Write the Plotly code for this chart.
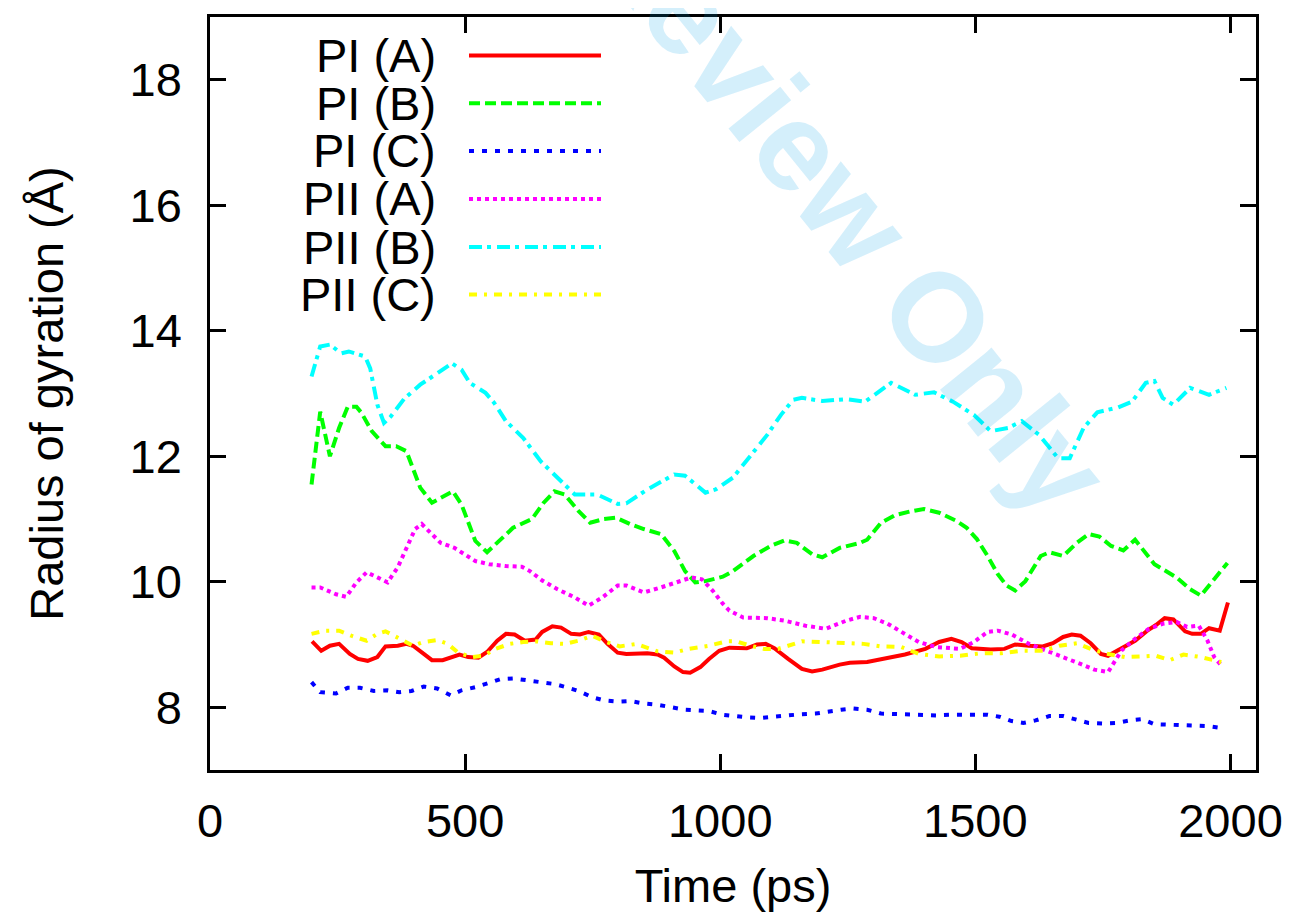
import plotly.graph_objects as go

# ---------------- data ----------------
t_pi_a = [200,218,235,253,274,290,309,328,344,368,385,398,419,435,456,472,489,506,526,543,
          563,580,597,617,638,651,671,688,708,725,742,762,779,799,816,857,877,890,910,927,
          941,961,978,998,1018,1052,1072,1089,1106,1133,1160,1180,1200,1234,1254,1288,1328,1362,1402,1429,
          1453,1473,1493,1530,1557,1578,1605,1632,1652,1672,1689,1706,1726,1746,1760,1787,1813,1837,1854,1871,
          1888,1911,1925,1942,1958,1979,1995]
rg_pi_a = [9.05,8.90,8.98,9.01,8.85,8.77,8.74,8.80,8.97,8.98,9.01,8.98,8.85,8.75,8.75,8.79,8.84,8.80,8.79,8.88,
           9.06,9.17,9.16,9.06,9.08,9.20,9.29,9.27,9.17,9.16,9.20,9.16,9.01,8.87,8.85,8.86,8.84,8.79,8.65,8.56,
           8.55,8.64,8.77,8.90,8.95,8.94,9.00,9.01,8.94,8.77,8.61,8.57,8.60,8.68,8.71,8.72,8.79,8.84,8.93,9.04,
           9.09,9.04,8.94,8.92,8.93,9.00,8.98,8.97,9.02,9.12,9.16,9.14,9.02,8.85,8.82,8.95,9.06,9.22,9.31,9.42,
           9.40,9.21,9.17,9.17,9.26,9.22,9.67]

t_pi_b = [199,216,235,253,270,287,297,317,344,365,385,412,435,476,493,520,543,567,594,631,
          654,675,695,722,745,772,796,823,850,884,910,931,951,971,1005,1025,1065,1099,1126,1150,
          1180,1200,1234,1274,1288,1315,1342,1372,1399,1429,1463,1483,1503,1524,1544,1561,1578,1598,1628,1645,
          1672,1699,1722,1743,1766,1790,1813,1851,1874,1894,1921,1942,1968,1994]
rg_pi_b = [11.55,12.71,12.00,12.45,12.79,12.79,12.69,12.40,12.16,12.16,12.08,11.50,11.26,11.44,11.23,10.65,10.47,10.65,10.86,11.00,
           11.26,11.44,11.39,11.13,10.94,11.00,11.02,10.92,10.84,10.76,10.49,10.17,9.99,10.01,10.08,10.17,10.41,10.57,10.66,10.62,
           10.44,10.39,10.54,10.62,10.67,10.94,11.06,11.12,11.16,11.10,10.97,10.86,10.68,10.41,10.12,9.94,9.86,10.01,10.41,10.47,
           10.41,10.62,10.76,10.72,10.57,10.50,10.67,10.28,10.17,10.07,9.88,9.78,10.04,10.30]

t_pi_c = [199,216,247,270,294,321,348,371,395,419,445,472,493,520,547,570,594,621,648,675,
          698,722,749,772,799,823,850,877,904,931,954,978,1005,1025,1052,1079,1106,1133,1160,1187,
          1214,1237,1261,1288,1315,1342,1369,1396,1423,1450,1470,1497,1524,1547,1571,1594,1618,1645,1672,1699,
          1722,1749,1776,1803,1827,1851,1874,1901,1928,1955,1982]
rg_pi_c = [8.40,8.24,8.22,8.31,8.31,8.26,8.27,8.24,8.26,8.33,8.30,8.19,8.27,8.32,8.39,8.45,8.46,8.43,8.41,8.37,
           8.32,8.26,8.16,8.11,8.09,8.10,8.06,8.04,8.00,7.96,7.95,7.94,7.88,7.86,7.84,7.83,7.85,7.88,7.89,7.90,
           7.94,7.96,7.98,7.96,7.90,7.89,7.88,7.88,7.87,7.88,7.88,7.89,7.88,7.85,7.78,7.75,7.79,7.86,7.86,7.80,
           7.75,7.74,7.75,7.79,7.81,7.73,7.72,7.72,7.71,7.70,7.67]

t_pii_a = [199,216,247,267,287,307,328,348,368,385,402,415,432,452,479,499,520,547,580,611,
           627,651,681,715,742,769,799,816,850,884,917,944,964,985,1005,1018,1045,1092,1126,1167,
           1207,1247,1274,1301,1328,1355,1389,1423,1470,1497,1524,1544,1571,1605,1638,1672,1706,1733,1760,1787,
           1813,1840,1867,1894,1915,1938,1955,1968,1985]
rg_pii_a = [9.91,9.91,9.80,9.76,9.99,10.15,10.07,9.99,10.23,10.54,10.84,10.92,10.78,10.62,10.54,10.44,10.33,10.28,10.25,10.24,
            10.17,10.02,9.88,9.75,9.62,9.75,9.94,9.94,9.83,9.91,9.99,10.07,10.04,9.86,9.65,9.54,9.43,9.42,9.38,9.30,
            9.25,9.38,9.44,9.42,9.33,9.20,9.04,8.96,8.93,9.04,9.20,9.22,9.16,9.01,8.91,8.80,8.69,8.60,8.56,8.91,
            9.09,9.25,9.33,9.36,9.28,9.30,9.06,8.80,8.64]

t_pii_b = [199,216,235,257,272,287,304,314,328,341,354,381,412,445,474,493,509,540,557,580,
           614,648,681,715,759,799,816,857,910,931,971,991,1025,1059,1092,1119,1143,1160,1200,1247,
           1284,1335,1382,1419,1456,1497,1530,1564,1591,1625,1662,1685,1712,1739,1780,1807,1834,1851,1867,1888,
           1921,1958,1992]
rg_pii_b = [13.27,13.75,13.78,13.64,13.67,13.64,13.59,13.40,12.82,12.53,12.63,12.92,13.14,13.32,13.48,13.38,13.17,13.01,12.85,12.56,
            12.29,11.92,11.66,11.39,11.39,11.24,11.25,11.47,11.71,11.69,11.42,11.47,11.66,12.00,12.34,12.66,12.90,12.93,12.88,12.91,
            12.87,13.17,12.98,13.02,12.87,12.66,12.40,12.45,12.56,12.34,11.97,11.97,12.45,12.70,12.78,12.87,13.17,13.20,12.93,12.82,
            13.09,12.98,13.09]

t_pii_c = [199,226,253,277,307,328,344,371,398,419,445,466,486,513,536,560,587,614,641,668,
           695,722,749,776,803,836,877,910,937,978,1012,1032,1059,1086,1113,1133,1160,1200,1241,1281,
           1315,1355,1389,1429,1470,1510,1551,1591,1632,1665,1699,1726,1753,1793,1827,1854,1881,1908,1942,1982]
rg_pii_c = [9.17,9.22,9.22,9.14,9.06,9.17,9.21,9.09,8.98,9.04,9.07,9.01,8.87,8.80,8.82,8.93,9.01,9.04,9.05,9.02,
            9.01,9.06,9.14,9.04,8.97,9.01,8.89,8.87,8.93,8.98,9.05,9.05,8.98,8.93,8.93,8.98,9.05,9.04,9.03,9.01,
            8.97,8.96,8.85,8.81,8.82,8.86,8.86,8.90,8.90,8.98,9.02,8.93,8.86,8.80,8.81,8.82,8.75,8.84,8.80,8.72]

series_names = ["PI (A)", "PI (B)", "PI (C)", "PII (A)", "PII (B)", "PII (C)"]
x_ticks = [0, 500, 1000, 1500, 2000]
y_ticks = [8, 10, 12, 14, 16, 18]

# ---------------- styles ----------------
times = [t_pi_a, t_pi_b, t_pi_c, t_pii_a, t_pii_b, t_pii_c]
values = [rg_pi_a, rg_pi_b, rg_pi_c, rg_pii_a, rg_pii_b, rg_pii_c]
colors = ["#ff0000", "#00ff00", "#0000ff", "#ff00ff", "#00ffff", "#ffff00"]
dashes = ["solid", "11px,5px", "5px,8px", "4px,4px", "13px,5px,4px,6px", "8px,7px,3px,7px"]
LW = 4
FONT = "Liberation Sans, Arial, Helvetica, sans-serif"
FS = 47

fig = go.Figure()
for t, v, c, d, n in zip(times, values, colors, dashes, series_names):
    fig.add_trace(go.Scatter(x=t, y=v, mode="lines", name=n, showlegend=False,
                             line=dict(color=c, width=LW, dash=d)))

# page body has an 8px margin: the figure is placed at (8, 8) in the window
OFF = 8
W, H = 1299 - OFF, 922 - OFF
L, T = 210 - OFF, 14 - OFF
R = W - (1256 - OFF)
B = H - (770 - OFF)
pw, ph = W - L - R, H - T - B


def px_to_paper_x(px):
    return (px - OFF - L) / pw


def px_to_paper_y(py):
    return (H - B - (py - OFF)) / ph


# manual gnuplot-style key: label right-aligned, sample to the right
row_px = [52.7, 100.7, 148.5, 196.7, 245, 292.7]
text_right_px = 438
samp_x0_px, samp_x1_px = 469, 601
shapes, annos = [], []
for n, c, d, ry in zip(series_names, colors, dashes, row_px):
    yp = px_to_paper_y(ry)
    shapes.append(dict(type="line", xref="paper", yref="paper",
                       x0=px_to_paper_x(samp_x0_px), x1=px_to_paper_x(samp_x1_px), y0=yp, y1=yp,
                       line=dict(color=c, width=LW, dash=d)))
    annos.append(dict(text=n, xref="paper", yref="paper", x=px_to_paper_x(text_right_px), y=yp,
                      xanchor="right", yanchor="middle", showarrow=False,
                      font=dict(family=FONT, size=FS, color="black")))

# watermark
annos.append(dict(text="<b>Review Only</b>", xref="paper", yref="paper",
                  x=px_to_paper_x(847), y=px_to_paper_y(203), xanchor="center", yanchor="middle",
                  textangle=51, showarrow=False,
                  font=dict(family=FONT, size=126, color="rgba(0,160,230,0.17)")))

axis_common = dict(showgrid=False, zeroline=False, showline=True, linecolor="black", linewidth=2.5,
                   mirror="allticks", ticks="inside", ticklen=16, tickwidth=2.5, tickcolor="black",
                   tickfont=dict(family=FONT, size=FS, color="black"))

fig.update_layout(
    width=W, height=H, autosize=False,
    margin=dict(l=L, r=R, t=T, b=B, pad=0),
    paper_bgcolor="white", plot_bgcolor="white",
    font=dict(family=FONT, size=FS, color="black"),
    xaxis=dict(range=[0, 2050], tickvals=x_ticks, ticktext=[str(v) for v in x_ticks],
               ticklabelstandoff=8,
               title=dict(text="Time (ps)", font=dict(family=FONT, size=FS), standoff=23),
               **axis_common),
    yaxis=dict(range=[7, 19], tickvals=y_ticks, ticktext=[str(v) for v in y_ticks],
               ticklabelstandoff=16,
               title=dict(text="Radius of gyration (Å)", font=dict(family=FONT, size=FS), standoff=52),
               **axis_common),
    shapes=shapes, annotations=annos,
)

fig.write_html("out.html")
